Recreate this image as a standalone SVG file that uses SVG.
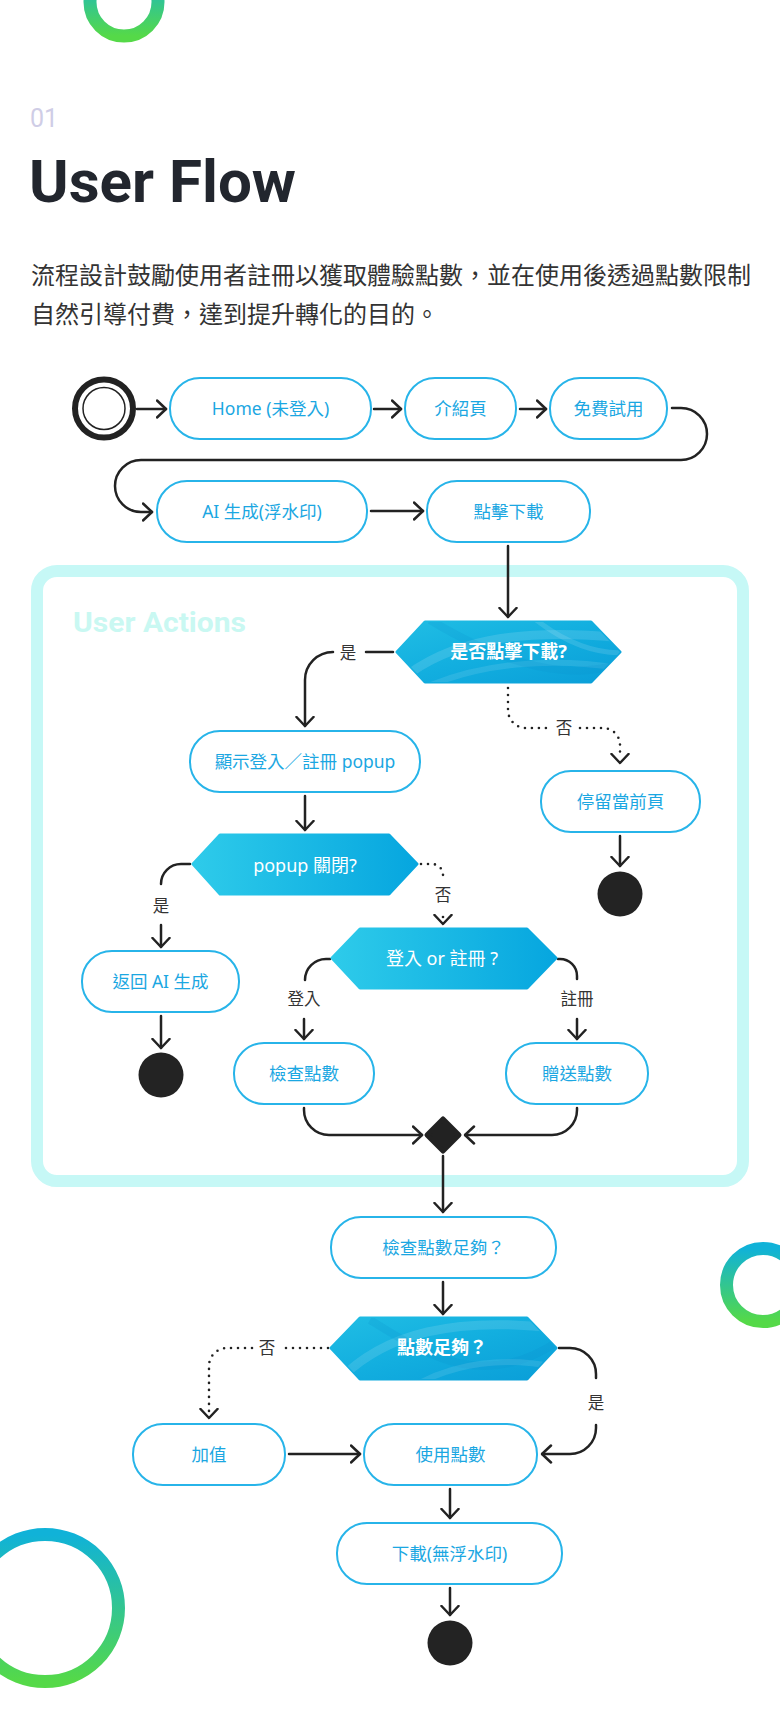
<svg xmlns="http://www.w3.org/2000/svg" width="780" height="1718" viewBox="0 0 780 1718">
<style>
.box{fill:#fff;stroke:#27b4e9;stroke-width:2}
.nt{font-family:"Noto Sans","Noto Sans CJK TC",sans-serif;font-size:17.5px;fill:#1ba7e2;text-anchor:middle}
.ht{font-family:"Noto Sans","Noto Sans CJK TC",sans-serif;font-size:18px;fill:#fff;text-anchor:middle}
.hb{font-weight:700}
.lb{font-family:"Noto Sans","Noto Sans CJK TC",sans-serif;font-size:16.5px;fill:#333;text-anchor:middle}
.c{fill:none;stroke:#222;stroke-width:2.5;stroke-linecap:round;stroke-linejoin:round}
.d{fill:none;stroke:#222;stroke-width:2.6;stroke-linecap:round;stroke-dasharray:0 7}
.end{fill:#232323}
.ring{fill:none;stroke-width:13}
</style>
<defs>
<marker id="ar" viewBox="0 0 12 20" refX="10.5" refY="10" markerWidth="12" markerHeight="20" markerUnits="userSpaceOnUse" orient="auto">
<path d="M1.5,1.5 L10.5,10 L1.5,18.5" fill="none" stroke="#222" stroke-width="2.5" stroke-linecap="round" stroke-linejoin="round"/>
</marker>
<linearGradient id="ringG" x1="0" y1="0" x2="0" y2="1">
<stop offset="0" stop-color="#10b2d8"/>
<stop offset="1" stop-color="#55d948"/>
</linearGradient>
<linearGradient id="hexA" x1="0" y1="0" x2="1" y2="0">
<stop offset="0" stop-color="#2ecbea"/>
<stop offset="1" stop-color="#06a6df"/>
</linearGradient>
<linearGradient id="hexT" x1="0" y1="0" x2="1" y2="1">
<stop offset="0" stop-color="#20bde4"/>
<stop offset="0.5" stop-color="#12aedf"/>
<stop offset="1" stop-color="#0a9ed8"/>
</linearGradient>
<clipPath id="clip1"><polygon points="397,652 425,622 591,622 620,652 591,682 425,682"/></clipPath>
<clipPath id="clip4"><polygon points="331,1348 360,1318 527,1318 556,1348 527,1379 360,1379"/></clipPath>
</defs>
<rect x="0" y="0" width="780" height="1718" fill="#ffffff"/>

<!-- decorative rings -->
<circle class="ring" cx="124" cy="2" r="34" stroke="url(#ringG)"/>
<circle class="ring" cx="763" cy="1285" r="36.5" stroke="url(#ringG)"/>
<circle class="ring" cx="45" cy="1608" r="73.5" stroke="url(#ringG)"/>

<!-- heading -->
<text x="30" y="127" font-family="Roboto, sans-serif" font-size="25" fill="#cfcde6">01</text>
<text x="29" y="202" font-family="Roboto, sans-serif" font-size="60" font-weight="700" fill="#22262e" textLength="267" lengthAdjust="spacingAndGlyphs">User Flow</text>
<text font-family="'Noto Sans CJK TC',sans-serif" font-size="24" fill="#333">
<tspan x="31" y="284">流程設計鼓勵使用者註冊以獲取體驗點數，並在使用後透過點數限制</tspan>
<tspan x="31" y="323">自然引導付費，達到提升轉化的目的。</tspan>
</text>

<!-- container -->
<g id="user-actions">
<rect x="37" y="571" width="706" height="610" rx="20" fill="none" stroke="#c6f8f6" stroke-width="12"/>
<text x="73" y="632" font-family="Roboto, sans-serif" font-size="28" font-weight="700" fill="#c9f8f2" textLength="173" lengthAdjust="spacingAndGlyphs">User Actions</text>
</g>

<!-- connectors -->
<g id="connectors">
<path class="c" d="M137,409 H166" marker-end="url(#ar)"/>
<path class="c" d="M374,409 H401" marker-end="url(#ar)"/>
<path class="c" d="M520,409 H546" marker-end="url(#ar)"/>
<path class="c" d="M672,408 H681 A26,26 0 0 1 681,460 H141 A26,26 0 0 0 141,512 H152" marker-end="url(#ar)"/>
<path class="c" d="M371,511 H423" marker-end="url(#ar)"/>
<path class="c" d="M508,546 V617" marker-end="url(#ar)"/>
<path class="c" d="M393,652 H366"/>
<path class="c" d="M333,652 A28,28 0 0 0 305,680 V726" marker-end="url(#ar)"/>
<path class="d" d="M508,688 V710 A18,18 0 0 0 526,728 H549"/>
<path class="d" d="M580,728 H603 A17,17 0 0 1 620,745 V757"/>
<path class="c" d="M620,757 V763" marker-end="url(#ar)" stroke-opacity="0"/>
<path class="c" d="M305,796 V830" marker-end="url(#ar)"/>
<path class="c" d="M190,864 H181 A20,20 0 0 0 161,884"/>
<path class="c" d="M161,925 V947" marker-end="url(#ar)"/>
<path class="d" d="M421,864 H432 A11,11 0 0 1 443,875"/>
<path class="d" d="M443,917 V918"/>
<path class="c" d="M443,920 V924" marker-end="url(#ar)" stroke-opacity="0"/>
<path class="c" d="M161,1016 V1048" marker-end="url(#ar)"/>
<path class="c" d="M620,836 V866" marker-end="url(#ar)"/>
<path class="c" d="M330,959 H326 A21,21 0 0 0 305,980"/>
<path class="c" d="M304,1019 V1039" marker-end="url(#ar)"/>
<path class="c" d="M558,959 H560 A17,17 0 0 1 577,976 V979"/>
<path class="c" d="M577,1019 V1039" marker-end="url(#ar)"/>
<path class="c" d="M304,1108 V1110 A25,25 0 0 0 329,1135 H422" marker-end="url(#ar)"/>
<path class="c" d="M577,1108 V1110 A25,25 0 0 1 552,1135 H465" marker-end="url(#ar)"/>
<path class="c" d="M443,1156 V1212" marker-end="url(#ar)"/>
<path class="c" d="M443,1282 V1314" marker-end="url(#ar)"/>
<path class="d" d="M328,1348 H280"/>
<path class="d" d="M252,1348 H227 A18,18 0 0 0 209,1366 V1412"/>
<path class="c" d="M209,1412 V1418" marker-end="url(#ar)" stroke-opacity="0"/>
<path class="c" d="M559,1348 H570 A26,26 0 0 1 596,1374 V1378"/>
<path class="c" d="M596,1425 V1428 A26,26 0 0 1 570,1454 H542" marker-end="url(#ar)"/>
<path class="c" d="M289,1454 H360" marker-end="url(#ar)"/>
<path class="c" d="M450,1489 V1518" marker-end="url(#ar)"/>
<path class="c" d="M450,1588 V1615" marker-end="url(#ar)"/>
</g>

<!-- labels -->
<g id="edge-labels">
<text class="lb" x="348" y="659">是</text>
<text class="lb" x="564" y="734">否</text>
<text class="lb" x="161" y="912">是</text>
<text class="lb" x="443" y="901">否</text>
<text class="lb" x="304" y="1005">登入</text>
<text class="lb" x="577" y="1005">註冊</text>
<text class="lb" x="267" y="1354">否</text>
<text class="lb" x="596" y="1409">是</text>
</g>

<!-- nodes -->
<g id="start">
<circle cx="104" cy="408.5" r="29" fill="#fff" stroke="#222" stroke-width="6"/>
<circle cx="104" cy="408.5" r="21" fill="none" stroke="#222" stroke-width="1.5"/>
</g>
<g id="home"><rect class="box" x="170" y="378" width="201" height="61" rx="30"/><text class="nt" x="270.5" y="415">Home (未登入)</text></g>
<g id="intro"><rect class="box" x="405" y="378" width="111" height="61" rx="30"/><text class="nt" x="460.5" y="415">介紹頁</text></g>
<g id="trial"><rect class="box" x="550" y="378" width="117" height="61" rx="30"/><text class="nt" x="608.5" y="415">免費試用</text></g>
<g id="ai-gen"><rect class="box" x="157" y="481" width="210" height="61" rx="30"/><text class="nt" x="262" y="518">AI 生成(浮水印)</text></g>
<g id="click-dl"><rect class="box" x="427" y="481" width="163" height="61" rx="30"/><text class="nt" x="508.5" y="518">點擊下載</text></g>

<g id="q-click">
<polygon points="397,652 425,622 591,622 620,652 591,682 425,682" fill="url(#hexT)" stroke="url(#hexT)" stroke-width="3" stroke-linejoin="round"/>
<g clip-path="url(#clip1)" fill="none">
<path d="M390,690 C440,640 520,625 640,640" stroke="#ffffff" stroke-opacity="0.13" stroke-width="9"/>
<path d="M400,700 C470,660 560,655 640,672" stroke="#ffffff" stroke-opacity="0.1" stroke-width="6"/>
<path d="M430,620 C480,650 560,690 630,660" stroke="#0a8fcf" stroke-opacity="0.18" stroke-width="8"/>
<path d="M530,615 C560,640 600,660 640,650" stroke="#ffffff" stroke-opacity="0.12" stroke-width="5"/>
</g>
<text class="ht hb" x="508.5" y="658">是否點擊下載?</text>
</g>

<g id="popup-show"><rect class="box" x="190" y="731" width="230" height="61" rx="30"/><text class="nt" x="305" y="768">顯示登入／註冊 popup</text></g>
<g id="stay"><rect class="box" x="541" y="771" width="159" height="61" rx="30"/><text class="nt" x="620.5" y="808">停留當前頁</text></g>
<g id="end1"><circle class="end" cx="620" cy="894" r="22.5"/></g>

<g id="q-popup">
<polygon points="193,864 220,835 389,835 417,864 389,894 220,894" fill="url(#hexA)" stroke="url(#hexA)" stroke-width="3" stroke-linejoin="round"/>
<text class="ht" x="305" y="872" font-size="21">popup 關閉?</text>
</g>

<g id="back-ai"><rect class="box" x="82" y="951" width="157" height="61" rx="30"/><text class="nt" x="160.5" y="988">返回 AI 生成</text></g>
<g id="end2"><circle class="end" cx="161" cy="1075" r="22.5"/></g>

<g id="q-login">
<polygon points="332,958 360,929 527,929 556,958 527,988 360,988" fill="url(#hexA)" stroke="url(#hexA)" stroke-width="3" stroke-linejoin="round"/>
<text class="ht" x="442" y="965">登入 or 註冊 ?</text>
</g>

<g id="check-pts"><rect class="box" x="234" y="1043" width="140" height="61" rx="30"/><text class="nt" x="304" y="1080">檢查點數</text></g>
<g id="gift-pts"><rect class="box" x="506" y="1043" width="142" height="61" rx="30"/><text class="nt" x="577" y="1080">贈送點數</text></g>

<g id="merge"><polygon points="443,1119 459,1135 443,1151 427,1135" fill="#222" stroke="#222" stroke-width="5" stroke-linejoin="round"/></g>

<g id="check-enough"><rect class="box" x="331" y="1217" width="225" height="61" rx="30"/><text class="nt" x="443.5" y="1254">檢查點數足夠？</text></g>

<g id="q-enough">
<polygon points="331,1348 360,1318 527,1318 556,1348 527,1379 360,1379" fill="url(#hexT)" stroke="url(#hexT)" stroke-width="3" stroke-linejoin="round"/>
<g clip-path="url(#clip4)" fill="none">
<path d="M330,1390 C380,1330 460,1315 570,1330" stroke="#ffffff" stroke-opacity="0.12" stroke-width="9"/>
<path d="M370,1320 C420,1350 480,1395 560,1340" stroke="#0a8fcf" stroke-opacity="0.2" stroke-width="8"/>
<path d="M400,1395 C450,1360 510,1355 570,1370" stroke="#ffffff" stroke-opacity="0.1" stroke-width="6"/>
</g>
<text class="ht hb" x="442" y="1354">點數足夠？</text>
</g>

<g id="topup"><rect class="box" x="133" y="1424" width="152" height="61" rx="30"/><text class="nt" x="209" y="1461">加值</text></g>
<g id="use-pts"><rect class="box" x="364" y="1424" width="173" height="61" rx="30"/><text class="nt" x="450.5" y="1461">使用點數</text></g>
<g id="download"><rect class="box" x="337" y="1523" width="225" height="61" rx="30"/><text class="nt" x="449.5" y="1560">下載(無浮水印)</text></g>
<g id="end3"><circle class="end" cx="450" cy="1643" r="22.5"/></g>
</svg>
